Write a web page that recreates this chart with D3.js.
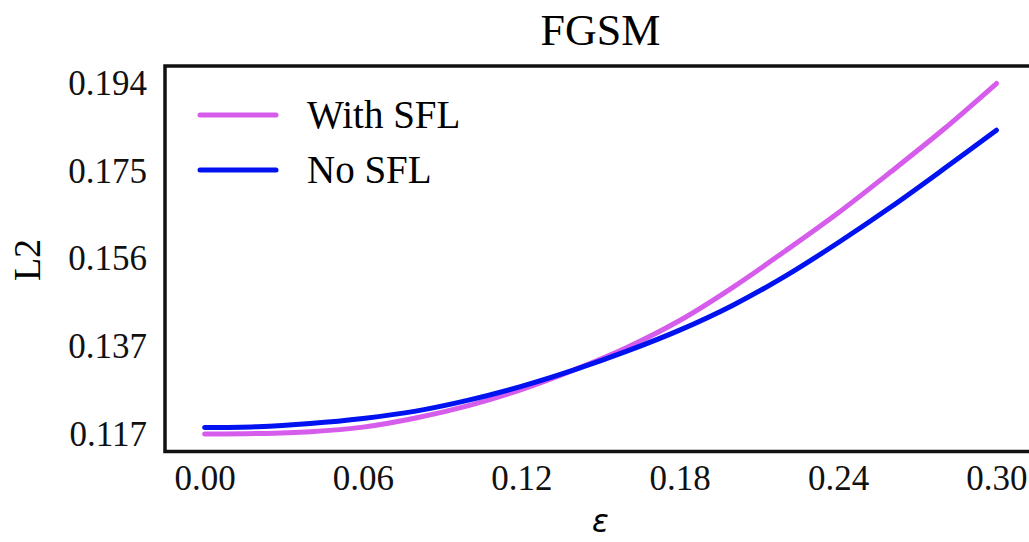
<!DOCTYPE html>
<html>
<head>
<meta charset="utf-8">
<script src="https://d3js.org/d3.v7.min.js"></script>
<style>
body { margin: 0; background: #fff; }
svg { display: block; }
</style>
</head>
<body>
<svg id="chart" width="1029" height="542"></svg>
<script>
// epsilon values (x)
var eps = [0.00, 0.02, 0.04, 0.06, 0.08, 0.10, 0.12, 0.14, 0.16, 0.18, 0.20, 0.22, 0.24, 0.26, 0.28, 0.30];
// L2
var withSFL = [0.1174, 0.1175, 0.1179, 0.1189, 0.1209, 0.1236, 0.1271, 0.1314, 0.1363, 0.1422, 0.1494, 0.1574, 0.1657, 0.1747, 0.1840, 0.1940];
var noSFL   = [0.1188, 0.1190, 0.1197, 0.1208, 0.1224, 0.1248, 0.1278, 0.1314, 0.1355, 0.1401, 0.1455, 0.1519, 0.1592, 0.1670, 0.1753, 0.1838];
var seriesNames = ["With SFL", "No SFL"];
var seriesColors = ["#d65cec", "#0012f0"];

var xTicks = [0.00, 0.06, 0.12, 0.18, 0.24, 0.30];
var yTicks = [0.1174, 0.13655, 0.1557, 0.17485, 0.1940];
var yTickLabels = ["0.117", "0.137", "0.156", "0.175", "0.194"];

var svg = d3.select("#chart");

// plot box (matplotlib style 5% margins around the data)
var boxLeft = 165, boxTop = 66, boxRight = 1036, boxBottom = 451.5;
var yMin = d3.min(withSFL.concat(noSFL)), yMax = d3.max(withSFL.concat(noSFL));
var yPad = (yMax - yMin) * 0.05, xPad = 0.3 * 0.05;

var x = d3.scaleLinear().domain([0 - xPad, 0.3 + xPad]).range([boxLeft, boxRight]);
var y = d3.scaleLinear().domain([yMin - yPad, yMax + yPad]).range([boxBottom, boxTop]);

var serif = "Liberation Serif, Times New Roman, serif";

// title
svg.append("text")
    .attr("x", (boxLeft + boxRight) / 2)
    .attr("y", 45)
    .attr("text-anchor", "middle")
    .style("font-family", serif)
    .style("font-size", "44px")
    .text("FGSM");

// x axis (no tick marks)
var xAxis = svg.append("g")
    .attr("transform", "translate(0," + boxBottom + ")")
    .call(d3.axisBottom(x).tickValues(xTicks).tickSize(0).tickPadding(14)
        .tickFormat(d3.format(".2f")));
xAxis.select(".domain").remove();
xAxis.selectAll("text")
    .attr("dy", "0.71em")
    .style("font-family", serif)
    .style("font-size", "35px")
    .attr("fill", "#111");

// y axis
var yAxis = svg.append("g")
    .attr("transform", "translate(" + boxLeft + ",0)")
    .call(d3.axisLeft(y).tickValues(yTicks).tickSize(0).tickPadding(18)
        .tickFormat(function(d, i) { return yTickLabels[i]; }));
yAxis.select(".domain").remove();
yAxis.selectAll("text")
    .style("font-family", serif)
    .style("font-size", "35px")
    .attr("fill", "#111");

// axis labels
svg.append("text")
    .attr("transform", "translate(40,260) rotate(-90)")
    .attr("text-anchor", "middle")
    .style("font-family", serif)
    .style("font-size", "38px")
    .text("L2");

svg.append("text")
    .attr("x", (boxLeft + boxRight) / 2)
    .attr("y", 532)
    .attr("text-anchor", "middle")
    .style("font-family", "DejaVu Sans, sans-serif")
    .style("font-style", "italic")
    .style("font-size", "31px")
    .text("ε");

// lines
var line = d3.line()
    .x(function(d) { return x(d[0]); })
    .y(function(d) { return y(d[1]); })
    .curve(d3.curveCatmullRom.alpha(0.5));

var allSeries = [withSFL, noSFL];
allSeries.forEach(function(vals, i) {
    svg.append("path")
        .datum(eps.map(function(e, j) { return [e, vals[j]]; }))
        .attr("d", line)
        .attr("fill", "none")
        .attr("stroke", seriesColors[i])
        .attr("stroke-width", 5)
        .attr("stroke-linecap", "round");
});

// frame
svg.append("rect")
    .attr("x", boxLeft)
    .attr("y", boxTop)
    .attr("width", boxRight - boxLeft)
    .attr("height", boxBottom - boxTop)
    .attr("fill", "none")
    .attr("stroke", "#111")
    .attr("stroke-width", 3.5);

// legend
var legend = svg.append("g");
seriesNames.forEach(function(name, i) {
    var ly = 115 + i * 55;
    legend.append("line")
        .attr("x1", 200).attr("x2", 276)
        .attr("y1", ly).attr("y2", ly)
        .attr("stroke", seriesColors[i])
        .attr("stroke-width", 5)
        .attr("stroke-linecap", "round");
    legend.append("text")
        .attr("x", 307)
        .attr("y", ly + 13)
        .style("font-family", serif)
        .style("font-size", "39px")
        .text(name);
});
</script>
</body>
</html>
